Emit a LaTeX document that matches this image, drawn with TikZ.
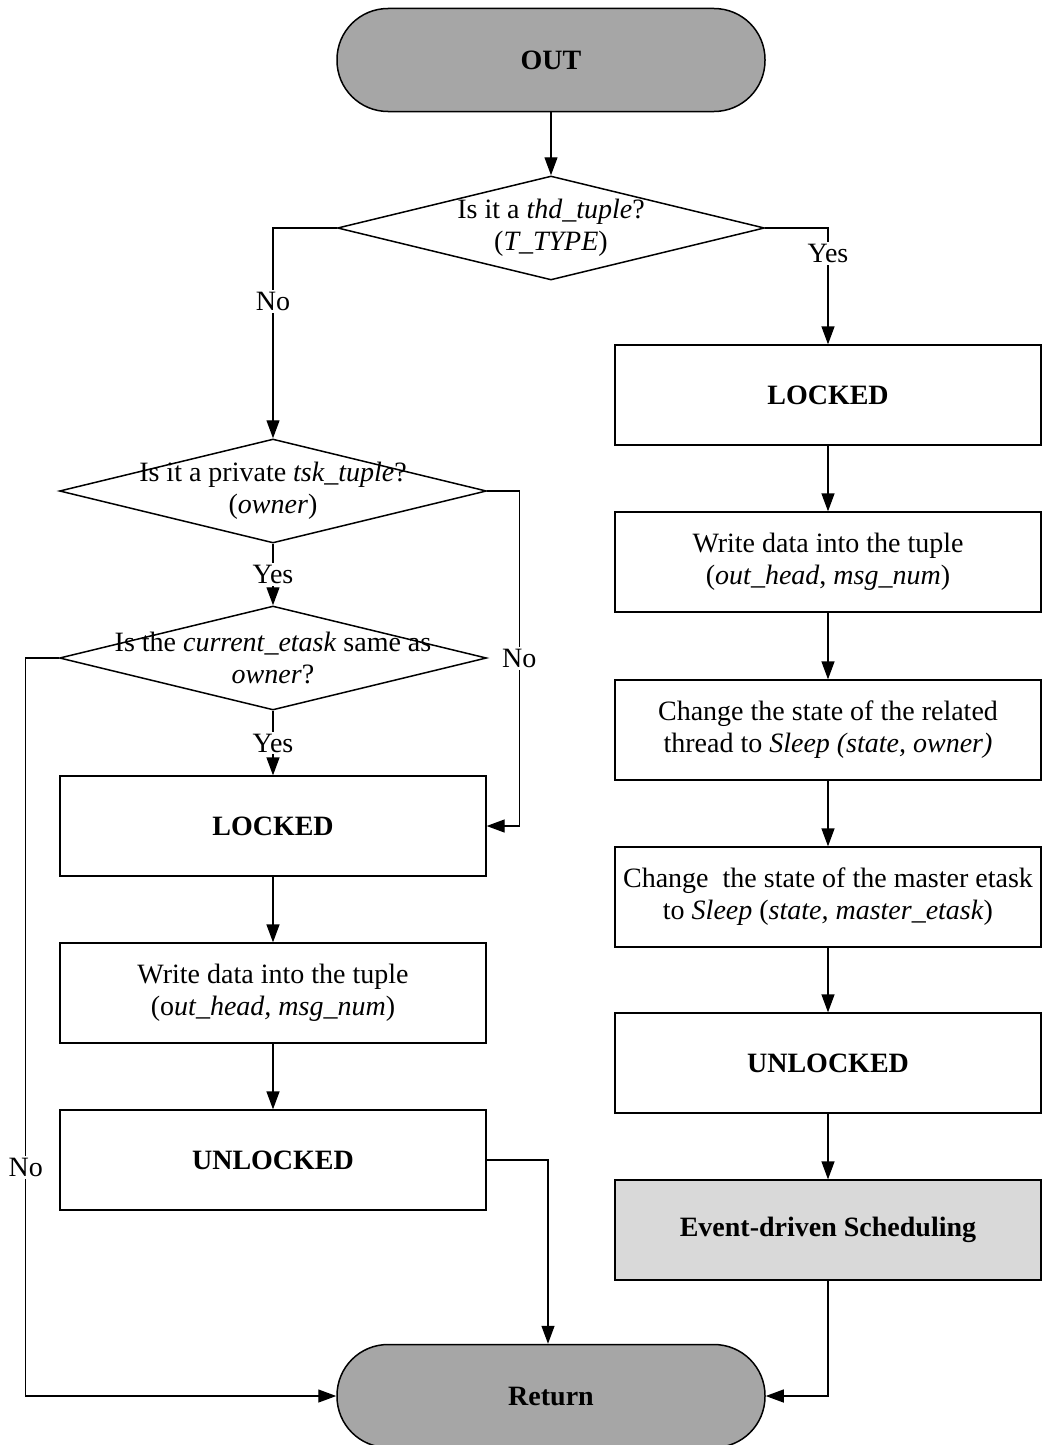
\documentclass[tikz,border=0pt]{standalone}
\usepackage{fontspec}
\setmainfont{Liberation Serif}
\usetikzlibrary{arrows.meta,calc,shapes.geometric}
\definecolor{termgray}{RGB}{166,166,166}
\definecolor{eventgray}{RGB}{217,217,217}
\begin{document}
\begin{tikzpicture}[x=1pt,y=-1pt,
  every node/.style={font=\fontsize{28}{32}\selectfont},
  terminal/.style={draw,line width=1.5pt,fill=termgray,rounded corners=51pt,
    minimum width=428pt,minimum height=103pt,font=\fontsize{28}{32}\selectfont\bfseries},
  procbox/.style={draw,line width=1.3pt,minimum width=426pt,minimum height=100pt,
    align=center,inner sep=0pt},
  boldbox/.style={procbox,font=\fontsize{28}{32}\selectfont\bfseries},
  decision/.style={draw,line width=1.5pt,diamond,inner sep=0pt,
    minimum width=427pt,minimum height=104pt},
  dtext/.style={align=center,inner sep=0pt},
  lbl/.style={fill=white,inner sep=2pt},
  arr/.style={line width=1.3pt,-{Triangle[length=18pt,width=13pt]}}]
\path[use as bounding box] (0,0) rectangle (1044,1445);

% terminals
\node[terminal] (out) at (551,60) {OUT};
\node[terminal] (ret) at (551,1396) {Return};

% first test
\node[decision] (d1) at (551,228) {};
\node[dtext] (d1t) at (551,228) {Is it a \textit{thd\_tuple}?\\(\textit{T\_TYPE})};

% left branch: task tuples
\node[decision] (d2) at (273,491) {};
\node[dtext] (d2t) at (273,491) {Is it a private \textit{tsk\_tuple}?\\(\textit{owner})};
\node[decision] (d3) at (273,658) {};
\node[dtext] (d3t) at (273,658) {Is the \textit{current\_etask} same as\\\textit{owner}?};
\node[boldbox] (llock) at (273,826) {LOCKED};
\node[procbox] (lwrite) at (273,993) {Write data into the tuple\\(o\textit{ut\_head, msg\_num})};
\node[boldbox] (lunlock) at (273,1160) {UNLOCKED};

% right branch: thread tuples
\node[boldbox] (rlock) at (828,395) {LOCKED};
\node[procbox] (rwrite) at (828,562) {Write data into the tuple\\(\textit{out\_head}, \textit{msg\_num})};
\node[procbox] (rthread) at (828,730) {Change the state of the related\\thread to \textit{Sleep (state, owner)}};
\node[procbox] (rmaster) at (828,897) {Change\ \ the state of the master etask\\to \textit{Sleep} (\textit{state, master\_etask})};
\node[boldbox] (runlock) at (828,1063) {UNLOCKED};
\node[boldbox,fill=eventgray] (revent) at (828,1230) {Event-driven Scheduling};

% connectors
\draw[arr] (out.south) -- (d1.north);
\draw[arr] (d1.west) -| node[lbl,pos=0.675] (no1) {No} (d2.north);
\draw[arr] (d1.east) -| node[lbl,pos=0.61] (yes1) {Yes} (rlock.north);

\draw[arr] (d2.south) -- node[lbl] (yes2) {Yes} (d3.north);
\draw[arr] (d2.east) -- ++(32,0) |- node[lbl,pos=0.25] (no2) {No} (llock.east);
\draw[arr] (d3.south) -- node[lbl] (yes3) {Yes} (llock.north);
\draw[arr] (d3.west) -- ++(-33,0) |- node[lbl,pos=0.345] (no3) {No} (ret.west);

\draw[arr] (llock) -- (lwrite);
\draw[arr] (lwrite) -- (lunlock);
\draw[arr] (lunlock.east) -| ($(ret.north)+(-3,0)$);

\draw[arr] (rlock) -- (rwrite);
\draw[arr] (rwrite) -- (rthread);
\draw[arr] (rthread) -- (rmaster);
\draw[arr] (rmaster) -- (runlock);
\draw[arr] (runlock) -- (revent);
\draw[arr] (revent.south) |- (ret.east);
\end{tikzpicture}
\end{document}
